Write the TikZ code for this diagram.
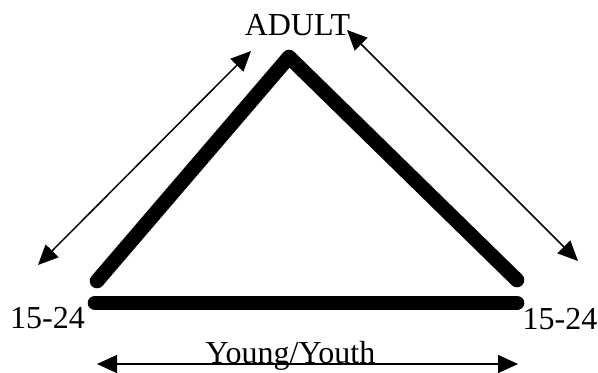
\documentclass[tikz,border=0pt]{standalone}
\usepackage{fontspec}
\setmainfont{Liberation Serif}
\usetikzlibrary{arrows.meta}
\begin{document}
\begin{tikzpicture}[x=0.5pt,y=-0.5pt,
  thick line/.style={line width=7.3pt,line cap=round,line join=round},
  twoway/.style={line width=0.75pt,{Triangle[length=10pt,width=9pt]}-{Triangle[length=10pt,width=9pt]}},
  lbl/.style={font=\fontsize{16}{19}\selectfont,anchor=base,inner sep=0pt}]
\useasboundingbox (0,0) rectangle (598,372);
% triangle
\coordinate (apex) at (289,57);
\coordinate (ldiag) at (97,281);
\coordinate (rdiag) at (517,280);
\coordinate (lbar) at (95,303);
\coordinate (rbar) at (517,303);
\draw[thick line] (ldiag) -- (apex) -- (rdiag);
\draw[thick line] (lbar) -- (rbar);
% arrow ends
\coordinate (la1) at (38,265);
\coordinate (la2) at (251,51);
\coordinate (ra1) at (347,30);
\coordinate (ra2) at (578,261);
\coordinate (ba1) at (97,364);
\coordinate (ba2) at (518,364);
\draw[twoway] (la1) -- (la2);
\draw[twoway] (ra1) -- (ra2);
\draw[twoway] (ba1) -- (ba2);
% labels
\node[lbl] (adult) at (297.5,35) {ADULT};
\node[lbl] (ll) at (47.5,328) {15-24};
\node[lbl] (rl) at (560,329) {15-24};
\node[lbl] (young) at (290.5,363) {Young/Youth};
\end{tikzpicture}
\end{document}
